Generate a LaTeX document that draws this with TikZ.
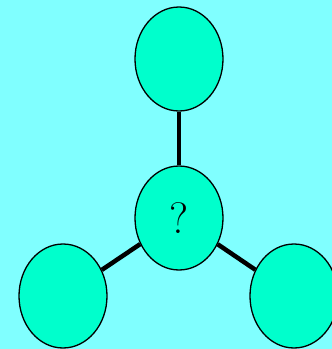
\documentclass[tikz,border=0pt]{standalone}
\usetikzlibrary{shapes.geometric}
\definecolor{bgcyan}{RGB}{128,255,255}
\definecolor{bubble}{RGB}{0,255,204}

\begin{document}
\begin{tikzpicture}[
    x=1pt, y=-1pt,
    blob/.style={draw, ellipse, fill=bubble, line width=1.3pt, minimum width=88pt, minimum height=104pt, inner sep=0pt},
    link/.style={line width=4.5pt},
]

% Background
\clip (0,0) rectangle (332,349);
\fill[bgcyan] (0,0) rectangle (332,349);

% Center and leaves
\node[blob, font=\fontsize{44}{50}\selectfont] (mid) at (179,218) {?};
\node[blob] (top) at (179,59) {};
\node[blob] (left) at (63,296) {};
\node[blob] (right) at (294,296) {};

% Links
\draw[link] (mid) -- (top);
\draw[link] (mid) -- (left);
\draw[link] (mid) -- (right);

\end{tikzpicture}
\end{document}
